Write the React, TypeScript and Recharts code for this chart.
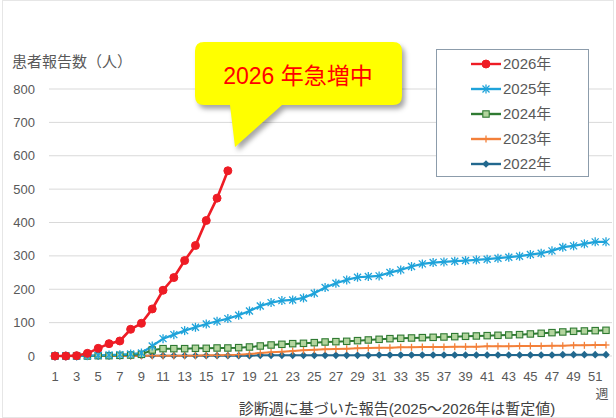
import { LineChart, Line, XAxis, YAxis, CartesianGrid, Legend } from 'recharts';

//週（1〜52）
const weeks = [
  1, 2, 3, 4, 5, 6, 7, 8, 9, 10, 11, 12, 13, 14, 15, 16, 17, 18, 19, 20, 21, 22, 23, 24, 25, 26,
  27, 28, 29, 30, 31, 32, 33, 34, 35, 36, 37, 38, 39, 40, 41, 42, 43, 44, 45, 46, 47, 48, 49, 50, 51, 52,
];
const xTicks = [1, 3, 5, 7, 9, 11, 13, 15, 17, 19, 21, 23, 25, 27, 29, 31, 33, 35, 37, 39, 41, 43, 45, 47, 49, 51];
const yTicks = [0, 100, 200, 300, 400, 500, 600, 700, 800];

const y2026 = [0, 0, 1, 8, 23, 37, 45, 80, 98, 141, 197, 235, 286, 331, 406, 473, 555];
const y2025 = [
  0, 0, 0, 1, 2, 3, 4, 6, 9, 30, 52, 64, 76, 86, 96, 104, 112, 122, 135, 150, 160, 166, 168, 174, 188, 205,
  218, 228, 236, 238, 240, 250, 258, 268, 276, 280, 282, 284, 286, 288, 290, 293, 296, 299, 304, 308, 315, 326, 330, 336, 342, 342,
];
const y2024 = [
  0, 0, 0, 0, 1, 1, 2, 3, 5, 18, 22, 22, 22, 23, 23, 24, 24, 25, 27, 30, 33, 35, 37, 38, 40, 42,
  43, 44, 46, 48, 50, 52, 53, 54, 55, 56, 57, 58, 59, 60, 61, 62, 63, 64, 66, 68, 70, 72, 74, 75, 76, 77,
];
const y2023 = [
  0, 0, 0, 0, 0, 0, 0, 0, 1, 1, 1, 1, 1, 1, 2, 2, 3, 4, 6, 9, 11, 13, 15, 17, 19, 20,
  21, 22, 23, 24, 25, 25, 26, 26, 27, 27, 27, 28, 28, 28, 29, 29, 29, 30, 30, 30, 31, 31, 32, 32, 33, 33,
];
const y2022 = [
  0, 0, 0, 0, 0, 0, 0, 0, 1, 1, 1, 1, 1, 1, 1, 1, 1, 1, 1, 2, 2, 2, 2, 2, 2, 2,
  2, 2, 2, 2, 3, 3, 3, 3, 3, 3, 3, 3, 3, 3, 3, 3, 3, 3, 3, 3, 3, 4, 4, 4, 4, 4,
];

const data = weeks.map((w, i) => ({
  week: w,
  y2026: y2026[i],
  y2025: y2025[i],
  y2024: y2024[i],
  y2023: y2023[i],
  y2022: y2022[i],
}));

type Kind = 'circle' | 'star' | 'square' | 'plus' | 'diamond';

const series: { key: string; name: string; color: string; fill: string; kind: Kind; width: number }[] = [
  { key: 'y2026', name: '2026年', color: '#EE1C25', fill: '#EE1C25', kind: 'circle', width: 2.6 },
  { key: 'y2025', name: '2025年', color: '#1FA3DA', fill: '#1FA3DA', kind: 'star', width: 2.2 },
  { key: 'y2024', name: '2024年', color: '#2F7A32', fill: '#B3D59E', kind: 'square', width: 2 },
  { key: 'y2023', name: '2023年', color: '#F3803A', fill: '#F3803A', kind: 'plus', width: 2 },
  { key: 'y2022', name: '2022年', color: '#22688E', fill: '#22688E', kind: 'diamond', width: 2 },
];

const FONT = "'Liberation Sans', 'Noto Sans CJK JP', sans-serif";

function Marker({ kind, x, y, color, fill }: { kind: Kind; x: number; y: number; color: string; fill: string }) {
  switch (kind) {
    case 'circle':
      return <circle cx={x} cy={y} r={4} fill={fill} stroke={color} />;
    case 'star':
      return (
        <g stroke={color} strokeWidth={1.3}>
          <line x1={x - 3.5} y1={y - 3.5} x2={x + 3.5} y2={y + 3.5} />
          <line x1={x - 3.5} y1={y + 3.5} x2={x + 3.5} y2={y - 3.5} />
          <line x1={x} y1={y - 4.5} x2={x} y2={y + 4.5} />
        </g>
      );
    case 'square':
      return <rect x={x - 3.2} y={y - 3.2} width={6.4} height={6.4} fill={fill} stroke={color} strokeWidth={1.1} />;
    case 'plus':
      return (
        <g stroke={color} strokeWidth={1.3}>
          <line x1={x} y1={y - 3.5} x2={x} y2={y + 3.5} />
          <line x1={x - 3.5} y1={y} x2={x + 3.5} y2={y} />
        </g>
      );
    default:
      return <path d={`M${x} ${y - 3.8}L${x + 3.8} ${y}L${x} ${y + 3.8}L${x - 3.8} ${y}Z`} fill={fill} />;
  }
}

const makeDot = (s: (typeof series)[number]) => (p: any) => {
  if (p.value == null || p.cy == null) return <g key={p.index} />;
  return (
    <g key={p.index}>
      <Marker kind={s.kind} x={p.cx} y={p.cy} color={s.color} fill={s.fill} />
    </g>
  );
};

function LegendBox() {
  return (
    <div style={{ paddingTop: 1 }}>
      {series.map((s) => (
        <div key={s.key} style={{ height: 25, display: 'flex', alignItems: 'center' }}>
          <svg width={66} height={12} style={{ flex: 'none' }}>
            <line x1={34} y1={6} x2={64} y2={6} stroke={s.color} strokeWidth={2.4} />
            <Marker kind={s.kind} x={49} y={6} color={s.color} fill={s.fill} />
          </svg>
          <span style={{ fontFamily: FONT, fontSize: 15, color: '#595959', lineHeight: '25px' }}>{s.name}</span>
        </div>
      ))}
    </div>
  );
}

export default function App() {
  const drawOrder = [...series].reverse();
  return (
    <div style={{ position: 'relative', width: 616, height: 418, background: '#fff' }}>
      <style>{'body{margin:0}'}</style>
      <LineChart width={616} height={418} data={data} margin={{ top: 89, right: 4, bottom: 32, left: 8 }}>
        <CartesianGrid vertical={false} stroke="#D9D9D9" />
        <XAxis
          dataKey="week"
          type="category"
          ticks={xTicks}
          interval={0}
          padding={{ left: 6, right: 6 }}
          axisLine={false}
          tickLine={false}
          height={30}
          tickMargin={10}
          tick={{ fill: '#595959', fontSize: 13, fontFamily: FONT }}
        />
        <YAxis
          domain={[0, 800]}
          ticks={yTicks}
          interval={0}
          axisLine={false}
          tickLine={false}
          width={41}
          tickMargin={8}
          tick={{ fill: '#595959', fontSize: 13, fontFamily: FONT }}
        />
        <Legend
          layout="vertical"
          align="center"
          verticalAlign="middle"
          content={() => <LegendBox />}
          wrapperStyle={{
            top: 49,
            left: 436,
            width: 153,
            height: 128,
            border: '1px solid #8C9CAB',
            background: '#fff',
            boxSizing: 'border-box',
          }}
        />
        {drawOrder.map((s) => (
          <Line
            key={s.key}
            dataKey={s.key}
            name={s.name}
            stroke={s.color}
            strokeWidth={s.width}
            dot={makeDot(s)}
            activeDot={false}
            isAnimationActive={false}
          />
        ))}
      </LineChart>
      <svg width={616} height={418} style={{ position: 'absolute', left: 0, top: 0, pointerEvents: 'none' }}>
        <defs>
          <filter id="sh" x="-20%" y="-20%" width="140%" height="160%">
            <feGaussianBlur stdDeviation={2.5} />
          </filter>
        </defs>
        <rect x={2.5} y={0.5} width={611} height={417} fill="none" stroke="#E6E6E6" />
        <text x={12} y={61} dominantBaseline="central" fontSize={15} fill="#595959" fontFamily={FONT}>
          患者報告数（人）
        </text>
        <text x={602} y={393} dominantBaseline="central" textAnchor="middle" fontSize={13} fill="#595959" fontFamily={FONT}>
          週
        </text>
        <text x={397} y={408} dominantBaseline="central" textAnchor="middle" fontSize={15} fill="#404040" fontFamily={FONT}>
          診断週に基づいた報告(2025～2026年は暫定値)
        </text>
        <path
          d="M204 42H393Q402 42 402 51V96Q402 105 393 105H282L235 147L230 105H204Q195 105 195 96V51Q195 42 204 42Z"
          fill="rgba(0,0,0,0.35)"
          transform="translate(3,4)"
          filter="url(#sh)"
        />
        <path
          d="M204 42H393Q402 42 402 51V96Q402 105 393 105H282L235 147L230 105H204Q195 105 195 96V51Q195 42 204 42Z"
          fill="#FFFF00"
        />
        <text x={298} y={76} dominantBaseline="central" textAnchor="middle" fontSize={23} fill="#FF0000" fontFamily={FONT}>
          2026 年急増中
        </text>
      </svg>
    </div>
  );
}
